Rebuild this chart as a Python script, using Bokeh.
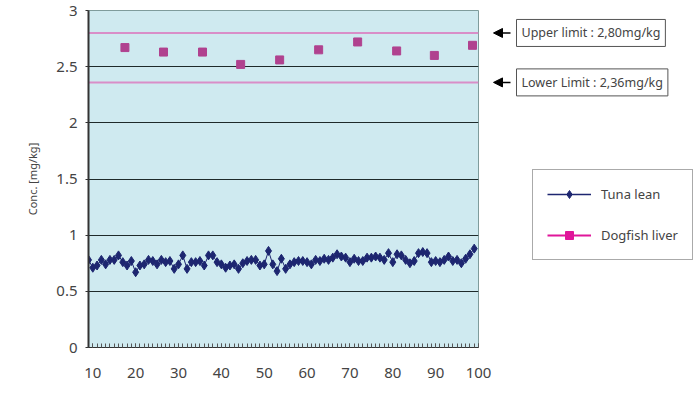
from bokeh.plotting import figure
from bokeh.layouts import row
from bokeh.models import (Range1d, FixedTicker, SingleIntervalTicker, Legend, LegendItem,
                          Label, Arrow, NormalHead, ColumnDataSource)
from bokeh.embed import file_html
from bokeh.resources import INLINE

# ---------------- data ----------------
tuna_values = [
    0.78, 0.71, 0.73, 0.78, 0.74, 0.78, 0.78, 0.82, 0.76, 0.73,
    0.77, 0.67, 0.73, 0.74, 0.78, 0.77, 0.74, 0.78, 0.76, 0.77,
    0.70, 0.74, 0.82, 0.70, 0.76, 0.76, 0.77, 0.73, 0.82, 0.82,
    0.76, 0.74, 0.71, 0.73, 0.74, 0.70, 0.75, 0.77, 0.78, 0.78,
    0.73, 0.74, 0.86, 0.74, 0.68, 0.79, 0.70, 0.74, 0.76, 0.77,
    0.77, 0.76, 0.74, 0.78, 0.77, 0.79, 0.78, 0.80, 0.83, 0.81,
    0.80, 0.76, 0.79, 0.77, 0.77, 0.80, 0.80, 0.81, 0.80, 0.78,
    0.84, 0.76, 0.83, 0.82, 0.78, 0.75, 0.77, 0.84, 0.85, 0.84,
    0.76, 0.77, 0.76, 0.78, 0.81, 0.77, 0.78, 0.75, 0.79, 0.83, 0.88,
]
tuna_x = list(range(9, 9 + len(tuna_values)))

dogfish_x = [17.5, 26.5, 35.6, 44.5, 53.6, 62.7, 71.8, 80.9, 89.7, 98.6]
dogfish_values = [2.67, 2.63, 2.63, 2.52, 2.56, 2.65, 2.72, 2.64, 2.60, 2.69]

upper_limit = 2.80
lower_limit = 2.36
upper_text = "Upper limit : 2,80mg/kg"
lower_text = "Lower Limit : 2,36mg/kg"

y_ticks = [0, 0.5, 1, 1.5, 2, 2.5, 3]

FONT = "Noto Sans"
TUNA_COLOR = "#1d2670"
DOG_COLOR = "#b0428f"
DOG_KEY_COLOR = "#e0169a"
LIMIT_COLOR = "#d98ec8"

H = 394
TOP, BOTTOM = 10, 47

# ---------------- main chart ----------------
yr = Range1d(0, 3)
p = figure(width=492, height=H, output_backend="svg", toolbar_location=None,
           x_range=Range1d(9, 100), y_range=yr,
           min_border_left=88, min_border_right=14, min_border_top=TOP,
           min_border_bottom=BOTTOM)

p.background_fill_color = "#cfeaf0"
p.border_fill_color = "white"
p.outline_line_color = "#7f9c9c"
p.outline_line_width = 1

p.yaxis.ticker = FixedTicker(ticks=y_ticks)
p.xaxis.ticker = SingleIntervalTicker(interval=10, num_minor_ticks=10)
for ax in (p.xaxis, p.yaxis):
    ax.axis_line_color = "#333333"
    ax.axis_line_width = 2
    ax.major_label_text_font = FONT
    ax.major_label_text_font_size = "15px"
    ax.major_label_text_color = "#444444"
p.yaxis.major_tick_out = 3
p.yaxis.major_tick_in = 0
p.yaxis.minor_tick_line_color = None
p.yaxis.major_tick_line_color = "#333333"
p.yaxis.major_label_standoff = 8
p.yaxis.axis_label = "Conc. [mg/kg]"
p.yaxis.axis_label_text_font = FONT
p.yaxis.axis_label_text_font_size = "11px"
p.yaxis.axis_label_text_font_style = "normal"
p.yaxis.axis_label_text_color = "#444444"
p.yaxis.axis_label_standoff = 13

p.xaxis.major_tick_out = 0
p.xaxis.major_tick_in = 4
p.xaxis.minor_tick_out = 0
p.xaxis.minor_tick_in = 4
p.xaxis.major_tick_line_color = "#555555"
p.xaxis.minor_tick_line_color = "#555555"
p.xaxis.major_label_standoff = 20
p.xaxis.axis_line_width = 1

p.xgrid.grid_line_color = None
p.ygrid.ticker = FixedTicker(ticks=y_ticks)
p.ygrid.grid_line_color = "#1e2a2a"
p.ygrid.grid_line_width = 1

p.line(x=[9, 100], y=[upper_limit, upper_limit], line_color=LIMIT_COLOR, line_width=2)
p.line(x=[9, 100], y=[lower_limit, lower_limit], line_color=LIMIT_COLOR, line_width=2)

tuna_src = ColumnDataSource(dict(x=tuna_x, y=tuna_values))
p.line("x", "y", source=tuna_src, line_color=TUNA_COLOR, line_width=1)
p.scatter("x", "y", source=tuna_src, marker="diamond", size=9,
          fill_color=TUNA_COLOR, line_color=TUNA_COLOR)

dog_src = ColumnDataSource(dict(x=dogfish_x, y=dogfish_values))
p.scatter("x", "y", source=dog_src, marker="square", size=8,
          fill_color=DOG_COLOR, line_color=DOG_COLOR)

# ---------------- side panel: limit notes + legend ----------------
p2 = figure(width=208, height=H, output_backend="svg", toolbar_location=None,
            x_range=Range1d(0, 208), y_range=yr, x_axis_type=None, y_axis_type=None,
            min_border_left=0, min_border_right=0, min_border_top=TOP,
            min_border_bottom=BOTTOM)
p2.outline_line_color = None
p2.background_fill_color = "white"
p2.border_fill_color = "white"
p2.xgrid.grid_line_color = None
p2.ygrid.grid_line_color = None

k_tuna_src = ColumnDataSource(dict(x=tuna_x, y=tuna_values))
k_dog_src = ColumnDataSource(dict(x=dogfish_x, y=dogfish_values))
k1 = p2.line("x", "y", source=k_tuna_src, line_color=TUNA_COLOR, line_width=1.5, visible=False)
k2 = p2.scatter("x", "y", source=k_tuna_src, marker="diamond", size=11,
                fill_color=TUNA_COLOR, line_color=TUNA_COLOR, visible=False)
k3 = p2.line("x", "y", source=k_dog_src, line_color=DOG_KEY_COLOR, line_width=2, visible=False)
k4 = p2.scatter("x", "y", source=k_dog_src, marker="square", size=9,
                fill_color=DOG_KEY_COLOR, line_color=DOG_KEY_COLOR, visible=False)

legend = Legend(items=[
    LegendItem(label="Tuna lean", renderers=[k1, k2]),
    LegendItem(label="Dogfish liver", renderers=[k3, k4]),
], location=(40, 87), margin=0, padding=14, spacing=21,
    glyph_width=44, glyph_height=20, label_height=20, label_standoff=10,
    label_text_font=FONT, label_text_font_size="13px", label_text_color="#444444",
    border_line_color="#555555", border_line_width=1,
    background_fill_color="white", background_fill_alpha=1,
    inactive_fill_alpha=0)
p2.add_layout(legend, "center")

LABEL_X = 24
ARROW_X0 = 18
ARROW_X1 = 1
for yv, txt in ((upper_limit, upper_text), (lower_limit, lower_text)):
    p2.add_layout(Label(x=LABEL_X, y=yv, text=txt, text_baseline="middle",
                        text_font=FONT, text_font_size="12.5px", text_color="#444444",
                        border_line_color="#555555", border_line_width=1,
                        background_fill_color="white", padding=5))
    p2.add_layout(Arrow(x_start=ARROW_X0, y_start=yv, x_end=ARROW_X1, y_end=yv,
                        line_color="black", line_width=1.5,
                        end=NormalHead(size=9, fill_color="black", line_color="black")))

layout = row(p, p2, spacing=0)
open("out.html", "w").write(file_html(layout, INLINE))
